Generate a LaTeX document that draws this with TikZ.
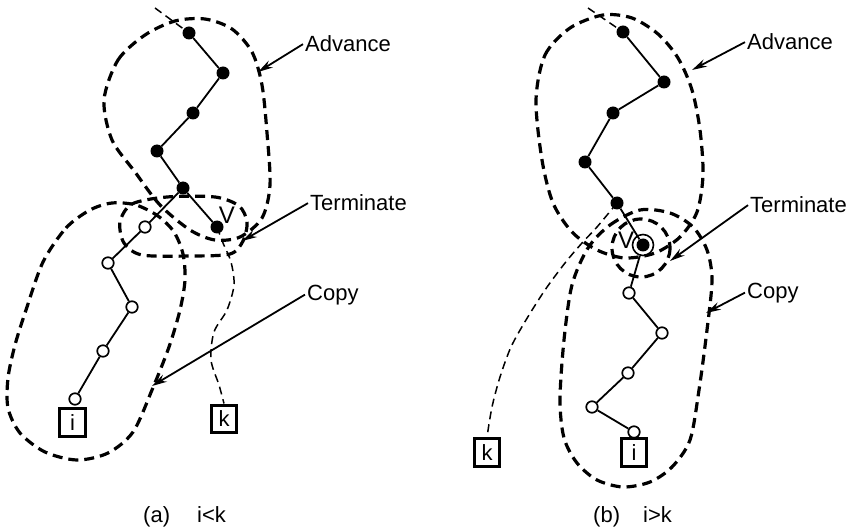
\documentclass[tikz,border=0pt]{standalone}
\usepackage{fontspec}
\setmainfont{Liberation Sans}
\usetikzlibrary{arrows.meta}
\pgfdeclarelayer{bg}
\pgfsetlayers{bg,main}
\tikzset{
 fdot/.style={circle, fill=black, inner sep=0pt, minimum size=13pt},
 odot/.style={circle, draw=black, fill=white, line width=1.7pt, inner sep=0pt, minimum size=11.5pt},
 ring/.style={circle, draw=black, line width=1.6pt, inner sep=0pt, minimum size=21pt},
 chain/.style={line width=1.8pt},
 zone/.style={line width=3.2pt, dash pattern=on 10pt off 6pt},
 kline/.style={line width=1.5pt, dash pattern=on 8pt off 5pt},
 leader/.style={line width=1.8pt, -{Stealth[length=15pt,width=8pt]}},
 lbl/.style={font=\fontsize{22}{24}\selectfont, inner sep=0pt, anchor=base west},
 vlbl/.style={font=\fontsize{24}{26}\selectfont, inner sep=0pt},
 tbox/.style={draw, line width=3.4pt, minimum width=25.5pt, minimum height=27.5pt, inner sep=0pt, font=\fontsize{22}{24}\selectfont},
}
\begin{document}
\begin{tikzpicture}[x=1pt,y=-1pt]
\useasboundingbox (0,0) rectangle (856,529);

% ---------------- panel (a) ----------------
\node[fdot] (a1) at (189,33) {};
\node[fdot] (a2) at (223,73) {};
\node[fdot] (a3) at (193,113) {};
\node[fdot] (a4) at (157,151) {};
\node[fdot] (aJ) at (183,188) {};
\node[fdot] (aV) at (217,227) {};
\node[vlbl] (aVl) at (227,215) {V};
\node[odot] (ao1) at (145,227) {};
\node[odot] (ao2) at (108,263) {};
\node[odot] (ao3) at (132,307) {};
\node[odot] (ao4) at (103,351) {};
\node[odot] (ao5) at (75,399) {};
\node[tbox] (ai) at (72.5,422.5) {i};
\node[tbox] (ak) at (224,419) {k};
\coordinate (atop) at (155,8);

\draw[chain] (a1) -- (a2) -- (a3) -- (a4) -- (aJ) -- (aV);
\draw[chain] (aJ) -- (ao1) -- (ao2) -- (ao3) -- (ao4) -- (ao5);

\begin{pgfonlayer}{bg}
\draw[kline] (atop) -- (a1);
\draw[kline] plot[smooth] coordinates {(aV) (223,243) (231,262) (234,285) (227,310) (214,332) (211,360) (219,385) (ak.north)};
% Advance
\draw[zone] plot[smooth cycle] coordinates {(104,100) (118,60) (145,35) (175,21) (205,19) (232,29) (252,52) (262,85) (267,133) (270,185) (262,218) (240,237) (215,240) (190,230) (160,205) (135,172) (112,140)};
% Terminate
\draw[zone] plot[smooth cycle] coordinates {(120,222) (132,204) (167,197) (215,197) (239,206) (247,222) (243,241) (230,254) (190,256) (142,255) (124,243)};
% Copy
\draw[zone] plot[smooth cycle] coordinates {(43,262) (66,228) (90,210) (112,203) (136,205) (158,216) (174,232) (183,254) (185,280) (180,310) (169,347) (152,390) (133,432) (108,453) (77,460) (45,452) (20,433) (8,408) (8,378) (15,345) (26,310)};
\end{pgfonlayer}

\node[lbl] (advA) at (305,52) {Advance};
\node[lbl] (termA) at (310,211) {Terminate};
\node[lbl] (copyA) at (307,300) {Copy};
\coordinate (tAdvA) at (258,72);
\coordinate (tTermA) at (242,241);
\coordinate (tCopyA) at (152,386);
\draw[leader] ([xshift=-2pt]advA.west) -- (tAdvA);
\draw[leader] ([xshift=-2pt]termA.west) -- (tTermA);
\draw[leader] ([xshift=-2pt]copyA.west) -- (tCopyA);

\node[lbl] (capA1) at (143,522) {(a)};
\node[lbl] (capA2) at (197,522) {i<k};

% ---------------- panel (b) ----------------
\node[fdot] (b1) at (623,32) {};
\node[fdot] (b2) at (664,82) {};
\node[fdot] (b3) at (613,113) {};
\node[fdot] (b4) at (585,162) {};
\node[fdot] (b5) at (617,203) {};
\node[fdot] (bV) at (643,245) {};
\node[ring] (bR) at (643,245) {};
\node[vlbl] (bVl) at (626,240) {V};
\node[odot] (bo1) at (629,293) {};
\node[odot] (bo2) at (662,333) {};
\node[odot] (bo3) at (628,373) {};
\node[odot] (bo4) at (592,407) {};
\node[odot] (bo5) at (634,432) {};
\node[tbox] (bi) at (634,452.5) {i};
\node[tbox] (bk) at (487,452.5) {k};
\coordinate (btop) at (588,8);

\draw[chain] (b1) -- (b2) -- (b3) -- (b4) -- (b5) -- (bV);
\draw[chain] (bR) -- (bo1) -- (bo2) -- (bo3) -- (bo4) -- (bo5);

\begin{pgfonlayer}{bg}
\draw[kline] (btop) -- (b1);
\draw[kline] plot[smooth] coordinates {(b5) (597,227) (582,243) (565,263) (545,290) (526,320) (511,347) (500,377) (492,407) (bk.north)};
% Advance
\draw[zone] plot[smooth cycle] coordinates {(536,100) (545,55) (570,28) (603,15) (632,18) (658,34) (678,58) (692,90) (700,130) (703,175) (697,212) (680,237) (655,253) (625,258) (597,250) (572,232) (553,203) (542,160)};
% Terminate
\draw[zone] (641,248) circle[radius=29];
% Copy
\draw[zone] plot[smooth cycle] coordinates {(588,248) (610,225) (640,210) (670,213) (693,227) (707,250) (712,280) (707,330) (699,390) (690,440) (672,467) (650,482) (623,487) (597,480) (577,463) (564,438) (560,400) (564,340) (572,285)};
\end{pgfonlayer}

\node[lbl] (advB) at (747,50) {Advance};
\node[lbl] (termB) at (750,213) {Terminate};
\node[lbl] (copyB) at (747,298) {Copy};
\coordinate (tAdvB) at (692,70);
\coordinate (tTermB) at (670,261);
\coordinate (tCopyB) at (706,313);
\draw[leader] ([xshift=-2pt]advB.west) -- (tAdvB);
\draw[leader] ([xshift=-2pt]termB.west) -- (tTermB);
\draw[leader] ([xshift=-2pt]copyB.west) -- (tCopyB);

\node[lbl] (capB1) at (593,522) {(b)};
\node[lbl] (capB2) at (643,522) {i>k};
\end{tikzpicture}
\end{document}
